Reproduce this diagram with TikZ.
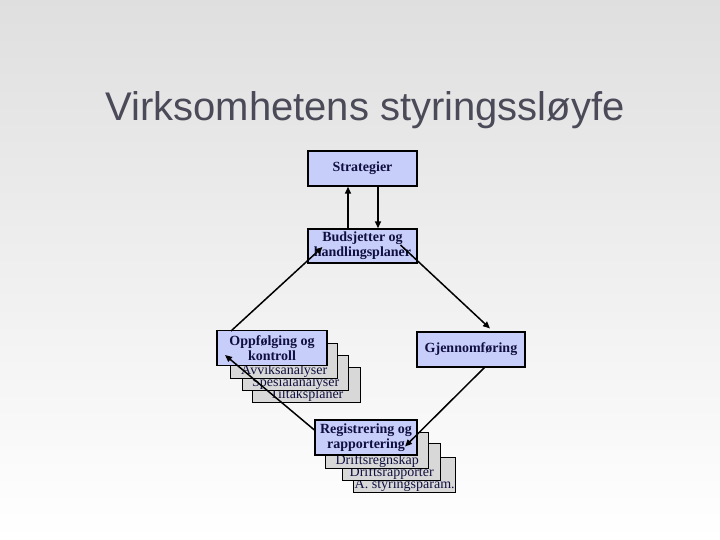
\documentclass[tikz,border=0pt]{standalone}
\usepackage{fontspec}
\setmainfont{Liberation Serif}
\newfontfamily\titlefont{Liberation Sans}
\usetikzlibrary{arrows.meta}
\definecolor{boxblue}{HTML}{C8CEFA}
\definecolor{txtblue}{HTML}{101040}
\definecolor{boxgray}{HTML}{D8D8D8}
\definecolor{titlegray}{HTML}{4A4A58}
\tikzset{
 bluebox/.style={draw=black,line width=1.4pt,fill=boxblue,text=txtblue,font=\bfseries\fontsize{14}{15}\selectfont,align=center,inner sep=0pt},
 graybox/.style={draw=black,line width=1.4pt,fill=boxgray,inner sep=0pt},
 graytext/.style={font=\fontsize{14}{12}\selectfont,text=txtblue,anchor=south,inner sep=0pt},
 conn/.style={line width=1.5pt,-{Triangle[length=7pt,width=6pt]}}
}
\begin{document}
\begin{tikzpicture}[x=1pt,y=-1pt]
\shade[top color=gray!25,bottom color=white] (0,0) rectangle (720,540);
\useasboundingbox (0,0) rectangle (720,540);
\node[font=\titlefont\fontsize{40}{40}\selectfont,text=titlegray] (title) at (365,110) {Virksomhetens styringssløyfe};
% Strategier and Budsjetter
\node[bluebox,minimum width=109pt,minimum height=35pt] (s) at (362.5,168.5) {Strategier};
\node[bluebox,minimum width=109pt,minimum height=34pt] (b) at (362.5,246) {Budsjetter og\\handlingsplaner};
% Oppfølging stack
\node[graybox,minimum width=108pt,minimum height=35pt,anchor=north west] (o4) at (252,367) {};
\node[graytext] at ([yshift=2pt]o4.south) {Tiltaksplaner};
\node[graybox,minimum width=106pt,minimum height=35pt,anchor=north west] (o3) at (242,355) {};
\node[graytext] at ([yshift=2pt]o3.south) {Spesialanalyser};
\node[graybox,minimum width=107pt,minimum height=35pt,anchor=north west] (o2) at (230,343) {};
\node[graytext] at ([yshift=2pt]o2.south) {Avviksanalyser};
\node[bluebox,minimum width=110pt,minimum height=35pt] (o) at (272,348) {Oppfølging og\\kontroll};
% Gjennomføring
\node[bluebox,minimum width=108pt,minimum height=35pt] (g) at (471,349.5) {Gjennomføring};
% Registrering stack
\node[graybox,minimum width=102pt,minimum height=35pt,anchor=north west] (r4) at (353,457) {};
\node[graytext] at ([yshift=2pt]r4.south) {A. styringsparam.};
\node[graybox,minimum width=98pt,minimum height=37pt,anchor=north west] (r3) at (342,443) {};
\node[graytext] at ([yshift=2pt]r3.south) {Driftsrapporter};
\node[graybox,minimum width=103pt,minimum height=36pt,anchor=north west] (r2) at (325,432) {};
\node[graytext] at ([yshift=2pt]r2.south) {Driftsregnskap};
\node[bluebox,minimum width=102pt,minimum height=35pt] (r) at (366,437.5) {Registrering og\\rapportering};
% connectors
\draw[conn] ([xshift=-14.5pt]b.north) -- ([xshift=-14.5pt]s.south);
\draw[conn] ([xshift=15.5pt]s.south) -- ([xshift=15.5pt]b.north);
\draw[conn] ([shift={(38,-1)}]b.center) -- ([shift={(19,-21)}]g.center);
\draw[conn] ([shift={(14,17.5)}]g.center) -- ([shift={(39,9)}]r.center);
\draw[conn] ([shift={(-51,-7)}]r.center) -- ([shift={(-47,7)}]o.center);
\draw[conn] ([shift={(-41,-17)}]o.center) -- ([shift={(-40,1)}]b.center);
\end{tikzpicture}
\end{document}
